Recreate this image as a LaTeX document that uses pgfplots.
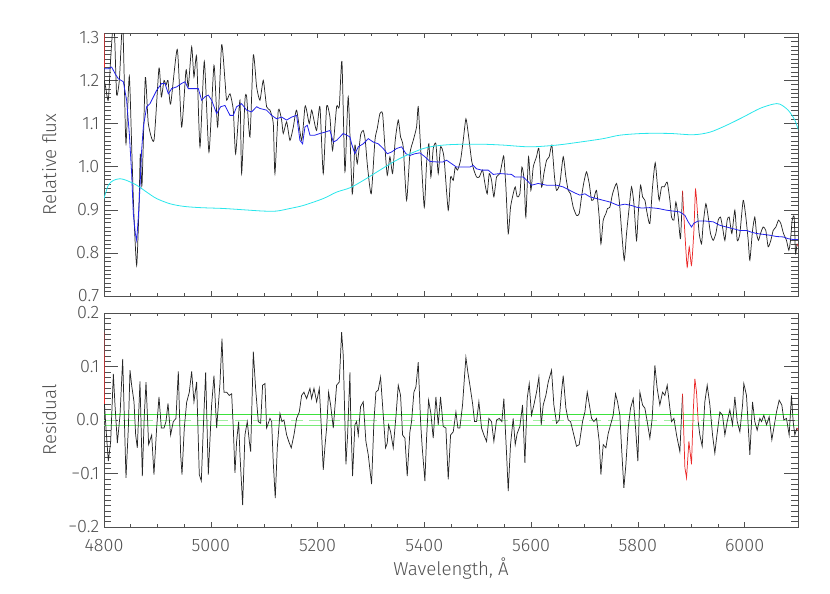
\documentclass[border=0pt]{standalone}
\usepackage{fontspec}
\setmainfont{Fira Sans Light}
\usepackage{pgfplots}
\pgfplotsset{compat=1.18}

\definecolor{axgray}{RGB}{80,80,80}
\definecolor{specblue}{RGB}{35,35,235}
\definecolor{speccyan}{RGB}{40,230,235}
\definecolor{specred}{RGB}{235,40,40}
\definecolor{lgreen}{RGB}{60,225,60}
\definecolor{pgreen}{RGB}{160,240,160}

\pgfplotsset{
  idl/.style={
    scale only axis, width=520.5pt,
    xmin=4800, xmax=6100,
    xtick={4800,5000,5200,5400,5600,5800,6000},
    minor x tick num=3, minor y tick num=9,
    tick align=inside,
    axis line style={axgray, line width=0.5pt},
    every tick/.append style={axgray, line width=0.4pt},
    xtick style={/pgfplots/major tick length=4pt, /pgfplots/minor tick length=2pt},
    ytick style={/pgfplots/major tick length=10.4pt, /pgfplots/minor tick length=5.2pt},
    tick label style={font=\fontsize{13.5}{15}\selectfont, text=axgray},
    label style={font=\fontsize{14}{16}\selectfont, text=axgray},
    /pgf/number format/assume math mode=true,
    yticklabel style={/pgf/number format/.cd, fixed, fixed zerofill, precision=1},
    ylabel style={at={(axis description cs:-0.079,0.5)}, anchor=center},
  },
  spec/.style={black!85, line width=0.55pt, smooth, tension=0.35},
  mask/.style={specred, line width=0.55pt, smooth, tension=0.35},
}

\begin{document}
\begin{tikzpicture}
\useasboundingbox (0,0) rectangle (622.5pt,444.75pt);

% upper panel: spectrum, model and continuum
\begin{axis}[idl,
  at={(78pt,222.75pt)}, anchor=south west, height=197.25pt,
  ymin=0.7, ymax=1.31,
  ytick={0.7,0.8,0.9,1.0,1.1,1.2,1.3},
  xticklabels={},
  ylabel={Relative flux},
]
\addplot[spec] coordinates {
(4800.3,1.200) (4803,1.185) (4808,1.154) (4812.5,1.250) (4817.5,1.340) (4820,1.300)
(4823.7,1.166) (4828.7,1.200) (4832,1.280) (4835,1.340) (4838,1.200) (4841.2,1.053)
(4847.4,1.210) (4852.4,1.023) (4856.2,0.883) (4861.2,0.771) (4865.5,0.903) (4868,1.030)
(4871.2,0.957) (4877.4,1.207) (4883,1.100) (4893.6,1.061) (4903,1.229) (4907.4,1.162)
(4912.4,1.200) (4916.1,1.189) (4919.9,1.200) (4924.8,1.145) (4937.3,1.272) (4945.4,1.092)
(4953.6,1.224) (4957.9,1.185) (4964.2,1.278) (4968.5,1.208) (4973.5,1.255) (4979.8,1.046)
(4987.9,1.244) (4996.6,1.034) (5006,1.235) (5012.9,1.092) (5020.3,1.283) (5026.6,1.200)
(5029.7,1.154) (5036,1.169) (5042.2,1.131) (5046.6,1.030) (5054.7,1.154) (5057.8,0.984)
(5064,1.154) (5067.2,1.162) (5073.4,1.069) (5079.7,1.259) (5085.9,1.185) (5092.1,1.154)
(5098.4,1.200) (5104.6,1.139) (5110.9,1.131) (5117.1,1.100) (5120.2,0.984) (5126.5,1.131)
(5132.7,1.108) (5135.8,1.077) (5142.1,1.104) (5148.3,1.061) (5154.6,1.092) (5160.8,1.131)
(5170.2,1.061) (5176.4,1.139) (5179.5,1.131) (5184.5,1.100) (5188.9,1.131) (5193.3,1.108)
(5198.3,1.084) (5204.5,1.139) (5210.7,0.984) (5217,1.139) (5223.2,1.115) (5228.2,1.038)
(5235.7,1.139) (5240.7,1.139) (5245.7,1.244) (5251.3,0.988) (5257.5,1.162) (5265.0,0.937)
(5270.0,1.050) (5274.4,1.007) (5280.6,1.073) (5285.6,1.084) (5289.4,1.061) (5293.7,0.999)
(5300.6,0.937) (5307.5,1.061) (5311.8,1.088) (5316.8,1.123) (5321.8,1.123) (5326.2,1.046)
(5330.6,0.980) (5335.6,1.023) (5340.6,0.984) (5345.5,1.061) (5351.2,1.108) (5355.5,1.069)
(5360.5,1.046) (5366.8,0.922) (5373.0,1.030) (5379.3,1.061) (5385.5,1.092) (5388.6,1.139)
(5393.0,1.046) (5399.9,0.906) (5404.2,1.007) (5408.6,1.053) (5412.3,0.976) (5416.7,1.042)
(5421.7,1.053) (5426.1,0.984) (5430.4,1.046) (5436.7,1.023) (5444.8,0.899) (5449.2,0.976)
(5454.2,0.968) (5457.9,0.999) (5462.3,0.992) (5467.9,1.015) (5472.9,1.061) (5477.9,1.111)
(5482.3,1.077) (5488.5,1.015) (5492.9,0.992) (5497.9,0.976) (5502.9,0.976) (5509.1,0.992)
(5513.5,0.961) (5517.8,0.937) (5521.6,0.984) (5526.0,0.968) (5530.3,0.930) (5535.3,0.976)
(5541.6,0.984) (5546.6,1.015) (5549.0,1.023) (5552.8,0.953) (5557.2,0.845) (5561.5,0.906)
(5566.5,0.937) (5570.3,0.953) (5574.0,0.930) (5579.0,0.937) (5582.8,0.999) (5587.1,0.968)
(5590.2,0.883) (5595.2,1.023) (5599.6,0.945) (5604.0,0.999) (5610.2,1.023) (5614.6,1.042)
(5619.6,0.953) (5624.0,0.984) (5629.0,1.015) (5633.9,1.023) (5638.9,1.050) (5643.9,0.976)
(5647.7,0.945) (5653.9,0.961) (5660.2,1.023) (5665.2,0.976) (5669.5,0.945) (5673.9,0.937)
(5678.9,0.906) (5685.1,0.887) (5690.1,0.891) (5694.5,0.930) (5698.9,0.964) (5703.9,0.988)
(5708.9,0.961) (5713.3,0.922) (5717.6,0.926) (5722.6,0.945) (5727.6,0.883) (5730.8,0.821)
(5735.1,0.876) (5740.1,0.891) (5743.2,0.903) (5747.6,0.906) (5752.6,0.937) (5760.1,0.961)
(5765.1,0.922) (5769.5,0.852) (5774.5,0.783) (5778.8,0.845) (5783.8,0.906) (5788.2,0.953)
(5792.6,0.914) (5797.5,0.829) (5800.7,0.891) (5805.0,0.957) (5808.8,0.930) (5813.2,0.922)
(5817.5,0.891) (5822.5,0.868) (5827.5,0.953) (5832.5,1.009) (5836.9,0.953) (5840.0,0.922)
(5844.4,0.953) (5849.4,0.953) (5855.0,0.964) (5860.0,0.922) (5863.1,0.883) (5867.5,0.876)
(5871.2,0.918) (5875.6,0.883) (5879.9,0.833) (5883.7,0.944)
};
\addplot[spec] coordinates {
(5911.8,0.891) (5914.9,0.845) (5919.3,0.821) (5922.4,0.868) (5927.4,0.914) (5931.8,0.883)
(5936.1,0.845) (5941.1,0.829) (5946.1,0.845) (5950.5,0.876) (5954.8,0.883) (5958.6,0.860)
(5963.0,0.829) (5967.3,0.876) (5971.1,0.883) (5976.1,0.845) (5981.7,0.899) (5986.1,0.829)
(5991.1,0.845) (5997.3,0.922) (6002.3,0.883) (6006.7,0.829) (6009.8,0.783) (6014.8,0.852)
(6019.1,0.883) (6022.3,0.845) (6026.0,0.829) (6029.8,0.845) (6034.7,0.860) (6039.7,0.852)
(6044.1,0.814) (6049.1,0.829) (6053.5,0.852) (6058.5,0.860) (6063.5,0.876) (6067.8,0.868)
(6072.8,0.845) (6078.4,0.829) (6082.8,0.806) (6085.9,0.829) (6089.1,0.876) (6092.8,0.883)
(6095.3,0.798) (6098.0,0.821)
};
% masked pixels
\addplot[mask] coordinates {(4800.0,1.34) (4800.8,1.23)};
\addplot[mask] coordinates {
(5883.7,0.944) (5888.1,0.845) (5892.4,0.767) (5896.2,0.814) (5900.5,0.771) (5905.0,0.852)
(5908.0,0.947) (5911.8,0.891)
};
\addplot[mask] coordinates {(6098.0,0.821) (6101,0.814)};
% fitted model
\addplot[specblue, line width=0.6pt] coordinates {
(4800,1.227) (4808.1,1.227) (4814.4,1.231) (4820.6,1.216) (4826.8,1.204) (4836.2,1.197)
(4842.4,1.154) (4847.4,1.077) (4851.8,0.984) (4854.9,0.891) (4858.7,0.845) (4861.2,0.829)
(4864.3,0.883) (4867.4,0.953) (4870.5,1.038) (4873.7,1.092) (4879.9,1.139) (4886.1,1.146)
(4898.6,1.177) (4908.0,1.193) (4914.2,1.193) (4920.5,1.169) (4926.7,1.181) (4936.1,1.185)
(4945.4,1.193) (4951.7,1.197) (4957.9,1.181) (4967.3,1.181) (4976.7,1.181) (4982.9,1.154)
(4989.1,1.162) (4995.4,1.166) (5001.6,1.154) (5011.0,1.123) (5018.5,1.139) (5026.6,1.142)
(5036.0,1.119) (5042.2,1.119) (5048.4,1.139) (5057.8,1.146) (5067.2,1.131) (5076.5,1.127)
(5085.9,1.139) (5092.1,1.135) (5104.6,1.131) (5114.0,1.119) (5123.3,1.111) (5132.7,1.115)
(5142.1,1.108) (5151.4,1.115) (5160.8,1.119) (5167.0,1.061) (5172.0,1.053) (5176.4,1.092)
(5180.8,1.096) (5185.8,1.073) (5195.1,1.073) (5204.5,1.077) (5213.9,1.080) (5223.2,1.084)
(5229.5,1.057) (5235.7,1.061) (5248.2,1.077) (5260.7,1.069) (5263.8,1.053) (5270.0,1.030)
(5276.3,1.046) (5285.6,1.053) (5295.0,1.065) (5304.4,1.057) (5313.7,1.053) (5323.1,1.042)
(5330.6,1.030) (5338.7,1.034) (5348.0,1.042) (5357.4,1.046) (5365.5,1.030) (5373.0,1.026)
(5382.4,1.030) (5391.7,1.032) (5401.1,1.023) (5410.5,1.012) (5423.0,1.011) (5435.4,1.011)
(5441.7,1.015) (5451.0,1.007) (5460.4,0.999) (5472.9,0.999) (5485.4,0.999) (5491.6,1.003)
(5497.9,0.995) (5507.2,0.992) (5519.7,0.992) (5529.1,0.982) (5541.6,0.984) (5563.4,0.982)
(5569.6,0.976) (5585.3,0.976) (5594.6,0.965) (5600.8,0.957) (5613.3,0.961) (5628.9,0.957)
(5647.7,0.957) (5660.2,0.953) (5672.6,0.945) (5682.0,0.939) (5691.4,0.934) (5700.8,0.937)
(5710.2,0.930) (5722.6,0.926) (5735.1,0.922) (5747.6,0.918) (5763.2,0.910) (5775.7,0.913)
(5788.2,0.910) (5797.5,0.906) (5806.9,0.904) (5822.5,0.905) (5838.1,0.903) (5853.7,0.899)
(5866.2,0.897) (5878.7,0.895) (5888.1,0.887) (5894.3,0.872) (5900.5,0.860) (5905.0,0.869)
(5913.0,0.874) (5925.5,0.874) (5941.1,0.872) (5953.6,0.864) (5966.1,0.860) (5978.6,0.856)
(5991.1,0.852) (6003.5,0.852) (6012.9,0.848) (6022.3,0.845) (6034.7,0.843) (6047.2,0.841)
(6059.7,0.838) (6072.2,0.837) (6081.5,0.833) (6090.9,0.831) (6100.9,0.831)
};
% multiplicative continuum
\addplot[speccyan, line width=0.6pt, smooth] coordinates {
(4800,0.926) (4808.1,0.957) (4817.5,0.968) (4830.0,0.972) (4842.4,0.968) (4861.2,0.957)
(4879.9,0.941) (4898.6,0.926) (4923.6,0.914) (4948.6,0.908) (4979.8,0.905) (5023.5,0.903)
(5060.9,0.900) (5098.4,0.897) (5123.3,0.897) (5148.3,0.903) (5173.3,0.910) (5210.7,0.926)
(5235.7,0.941) (5260.7,0.951) (5285.6,0.968) (5348.0,1.015) (5398.0,1.042) (5435.4,1.050)
(5472.9,1.052) (5510.3,1.052) (5547.8,1.050) (5597.7,1.046) (5647.7,1.050) (5691.4,1.057)
(5735.1,1.065) (5766.3,1.073) (5810.0,1.077) (5860.0,1.077) (5903.7,1.074) (5934.9,1.080)
(5966.1,1.096) (5997.3,1.115) (6028.5,1.135) (6053.5,1.145) (6066.0,1.145) (6081.5,1.131)
(6094.0,1.108) (6100.9,1.084)
};
\end{axis}

% lower panel: residuals
\begin{axis}[idl,
  at={(78pt,49.5pt)}, anchor=south west, height=160.5pt,
  ymin=-0.2, ymax=0.2,
  ytick={-0.2,-0.1,0,0.1,0.2},
  yticklabels={−0.2,−0.1,0.0,0.1,0.2},
  xticklabel shift=5.5pt,
  xticklabel style={/pgf/number format/.cd, fixed, 1000 sep={}},
  xlabel={Wavelength, Å},
  xlabel style={at={(axis description cs:0.5,-0.196)}, anchor=center},
  ylabel={Residual},
]
\addplot[lgreen, line width=0.6pt] coordinates {(4800,0.01) (6100,0.01)};
\addplot[lgreen!70!white, line width=0.6pt] coordinates {(4800,-0.01) (6100,-0.01)};
\addplot[pgreen, line width=0.6pt, dash pattern=on 9pt off 5pt] coordinates {(4800,0) (6100,0)};
\addplot[black!85, line width=0.55pt] coordinates {
(4800.8,0.030) (4803.7,-0.015) (4808.1,-0.077) (4812.5,-0.040) (4817.5,0.086) (4820.6,0.028)
(4825.0,-0.043) (4830.0,0.009) (4835.0,0.114) (4841.2,-0.108) (4845.6,-0.015) (4848.7,0.093)
(4851.8,0.065) (4856.2,0.034) (4859.3,-0.028) (4862.4,-0.052) (4867.4,0.072) (4871.8,-0.105)
(4875.5,0.009) (4878.7,0.071) (4883.6,-0.046) (4889.3,-0.028) (4893.6,-0.102) (4898.6,-0.015)
(4903.0,0.043) (4907.4,-0.015) (4912.4,-0.015) (4916.1,-0.003) (4919.9,0.031) (4924.8,-0.028)
(4929.8,-0.003) (4934.8,0.003) (4939.2,0.091) (4943.6,-0.065) (4946.1,-0.102) (4950.4,-0.015)
(4954.8,0.033) (4959.8,0.052) (4964.2,0.091) (4968.5,0.034) (4973.5,0.071) (4978.5,-0.102)
(4982.3,-0.114) (4986.0,-0.015) (4990.4,0.089) (4995.4,-0.102) (5001.6,0.028) (5006.0,0.083)
(5011.0,-0.015) (5017.2,0.068) (5021.0,0.152) (5024.7,0.052) (5029.7,0.052) (5034.7,0.046)
(5039.1,0.049) (5042.2,-0.015) (5045.3,-0.099) (5048.4,-0.040) (5052.2,-0.003) (5054.7,-0.065)
(5059.7,-0.159) (5064.0,-0.028) (5068.4,-0.003) (5072.2,-0.040) (5074.7,-0.059) (5079.7,0.128)
(5084.0,0.059) (5089.0,-0.003) (5093.4,-0.006) (5097.1,0.065) (5101.5,0.068) (5104.6,-0.015)
(5110.9,0.003) (5114.0,-0.003) (5117.1,-0.080) (5120.8,-0.146) (5124.6,-0.052) (5129.6,0.012)
(5133.3,-0.003) (5137.1,0.000) (5142.1,-0.028) (5147.1,-0.043) (5150.8,-0.052) (5155.8,-0.028)
(5160.8,0.003) (5165.8,0.015) (5170.2,0.046) (5174.5,0.052) (5179.5,0.040) (5185.8,0.059)
(5188.9,0.040) (5193.3,0.059) (5198.3,0.034) (5203.3,0.059) (5205.7,0.015) (5210.7,-0.093)
(5213.9,-0.049) (5217.0,-0.015) (5220.7,0.052) (5224.5,0.028) (5229.5,-0.015) (5235.7,0.065)
(5240.7,0.071) (5245.1,0.164) (5248.2,0.120) (5253.2,-0.083) (5256.3,-0.028) (5260.7,0.089)
(5261.9,0.019) (5265.6,-0.105) (5270.0,-0.009) (5273.1,-0.003) (5276.3,-0.028) (5280.6,0.025)
(5285.6,0.034) (5290.6,-0.040) (5295.0,-0.065) (5301.2,-0.120) (5305.6,-0.003) (5309.3,0.052)
(5313.7,0.056) (5318.1,0.080) (5323.1,0.009) (5327.4,-0.052) (5330.6,-0.043) (5333.1,-0.009)
(5336.8,-0.022) (5341.8,-0.052) (5346.8,0.006) (5351.2,0.065) (5355.5,0.046) (5359.3,-0.028)
(5363.7,-0.034) (5368.0,-0.105) (5373.0,-0.022) (5376.1,-0.003) (5380.5,0.052) (5384.3,0.062)
(5388.6,0.108) (5393.0,-0.003) (5396.1,-0.052) (5401.1,-0.114) (5404.2,-0.034) (5408.0,0.037)
(5412.3,0.012) (5416.7,-0.034) (5421.7,0.043) (5426.1,-0.009) (5430.4,0.043) (5435.4,-0.012)
(5440.4,-0.015) (5444.8,-0.111) (5449.2,-0.028) (5454.2,-0.022) (5459.2,0.015) (5462.9,-0.015)
(5466.6,-0.015) (5471.6,0.028) (5475.4,0.083) (5477.9,0.117) (5481.6,0.089) (5485.4,0.065)
(5490.4,0.031) (5494.1,-0.003) (5497.9,-0.003) (5502.2,0.034) (5507.2,-0.015) (5511.6,-0.028)
(5516.6,-0.040) (5520.9,0.003) (5525.9,-0.003) (5530.3,-0.040) (5535.3,0.000) (5540.3,0.003)
(5545.3,-0.003) (5549.0,0.040) (5554.0,-0.062) (5557.2,-0.133) (5561.5,-0.046) (5566.5,0.003)
(5570.3,-0.046) (5574.0,-0.025) (5579.0,-0.012) (5584.0,0.028) (5588.4,-0.080) (5592.7,0.040)
(5596.5,0.068) (5600.8,0.009) (5605.2,0.028) (5610.2,0.052) (5614.6,0.080) (5619.0,-0.009)
(5622.7,0.028) (5627.7,0.046) (5632.1,0.071) (5638.3,0.093) (5642.7,0.028) (5647.7,-0.006)
(5652.7,0.000) (5657.0,0.052) (5660.2,0.083) (5665.2,0.022) (5669.5,0.000) (5674.0,-0.003)
(5680.1,-0.028) (5685.1,-0.049) (5690.1,-0.046) (5696.4,-0.003) (5700.8,0.015) (5705.2,0.052)
(5710.2,0.022) (5713.3,0.003) (5717.6,-0.003) (5722.6,0.003) (5727.6,-0.040) (5730.8,-0.102)
(5735.1,-0.046) (5740.1,-0.052) (5744.5,-0.025) (5748.9,-0.009) (5753.8,0.009) (5758.2,0.049)
(5762.0,0.034) (5766.3,0.009) (5769.5,-0.052) (5773.8,-0.127) (5777.6,-0.083) (5781.9,-0.015)
(5786.3,0.022) (5791.3,0.040) (5795.7,-0.015) (5800.0,-0.077) (5803.8,0.052) (5808.8,0.028)
(5813.2,0.022) (5817.5,-0.003) (5822.5,-0.034) (5826.9,0.003) (5831.9,0.102) (5836.2,0.059)
(5841.2,0.028) (5846.2,0.052) (5850.6,0.046) (5855.0,0.065) (5860.0,0.022) (5863.1,-0.003)
(5867.5,0.003) (5872.5,-0.028) (5878.7,-0.059) (5883.7,0.049)
};
\addplot[black!85, line width=0.55pt] coordinates {
(5913.0,-0.003) (5916.1,-0.028) (5920.5,-0.049) (5925.5,0.034) (5929.9,0.065) (5934.9,0.028)
(5939.9,-0.028) (5944.2,-0.062) (5947.4,-0.034) (5953.6,0.015) (5958.6,0.009) (5963.0,-0.028)
(5967.3,-0.003) (5972.3,0.019) (5977.3,-0.009) (5981.7,0.043) (5986.1,-0.003) (5991.1,-0.022)
(5996.1,0.028) (5998.5,0.068) (6003.5,0.046) (6009.8,-0.065) (6014.8,0.034) (6019.1,-0.003)
(6023.5,-0.019) (6028.5,0.003) (6031.6,-0.003) (6036.0,0.009) (6041.0,-0.009) (6046.0,0.006)
(6051.0,-0.037) (6054.7,-0.015) (6059.7,0.015) (6064.7,0.037) (6069.7,0.028) (6073.5,0.000)
(6078.4,0.003) (6083.4,-0.028) (6087.8,0.046) (6090.9,-0.003) (6094.0,-0.028) (6098.0,-0.015)
};
\addplot[specred, line width=0.55pt] coordinates {(4800.0,0.164) (4800.8,0.030)};
\addplot[specred, line width=0.55pt] coordinates {
(5883.7,0.049) (5888.1,-0.089) (5891.2,-0.108) (5895.6,-0.040) (5900.5,-0.083) (5903.7,0.015)
(5906.8,0.077) (5909.9,0.052) (5913.0,-0.003)
};
\addplot[specred, line width=0.55pt] coordinates {(6098.0,-0.015) (6101,-0.020)};
\end{axis}
\end{tikzpicture}
\end{document}
